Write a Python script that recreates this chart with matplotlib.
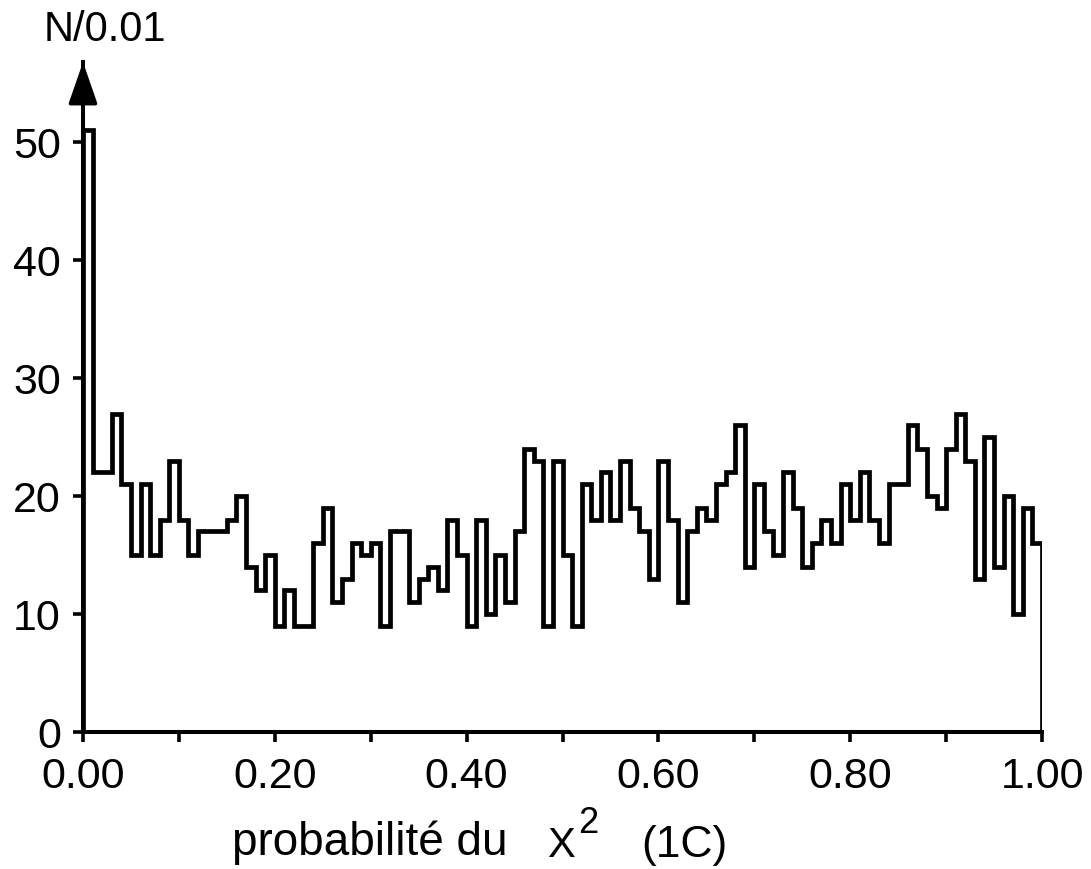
import numpy as np
import matplotlib
matplotlib.use("Agg")
import matplotlib.pyplot as plt

# Counts per 0.01-wide bin of the chi-square probability (1C fit)
counts = [51, 22, 22, 27, 21, 15, 21, 15, 18, 23,
          18, 15, 17, 17, 17, 18, 20, 14, 12, 15,
          9, 12, 9, 9, 16, 19, 11, 13, 16, 15,
          16, 9, 17, 17, 11, 13, 14, 12, 18, 15,
          9, 18, 10, 15, 11, 17, 24, 23, 9, 23,
          15, 9, 21, 18, 22, 18, 23, 19, 17, 13,
          23, 18, 11, 17, 19, 18, 21, 22, 26, 14,
          21, 17, 15, 22, 19, 14, 16, 18, 16, 21,
          18, 22, 18, 16, 21, 21, 26, 24, 20, 19,
          24, 27, 23, 13, 25, 14, 20, 10, 19, 16]
bin_edges = np.linspace(0.0, 1.0, len(counts) + 1)

x_major = [0.0, 0.2, 0.4, 0.6, 0.8, 1.0]
x_major_labels = ["0.00", "0.20", "0.40", "0.60", "0.80", "1.00"]
x_minor = [0.1, 0.3, 0.5, 0.7, 0.9]
y_ticks = [0, 10, 20, 30, 40, 50]

FONT = "Liberation Sans"
plt.rcParams["font.family"] = [FONT, "DejaVu Sans"]

W, H = 1091, 869
fig = plt.figure(figsize=(W / 100, H / 100), dpi=100)
x0, x1 = 83, 1042
y0, y1 = 732, 62
ax = fig.add_axes([x0 / W, (H - y0) / H, (x1 - x0) / W, (y0 - y1) / H])

ax.stairs(counts, bin_edges, baseline=0, fill=False, color="black",
          linewidth=3.4, joinstyle="miter")

ax.set_xlim(0, 1)
ax.set_ylim(0, 56.8)

for side in ("top", "right"):
    ax.spines[side].set_visible(False)
for side in ("left", "bottom"):
    ax.spines[side].set_linewidth(2.9)
    ax.spines[side].set_color("black")

ax.set_xticks(x_major)
ax.set_xticklabels(x_major_labels)
ax.set_xticks(x_minor, minor=True)
ax.set_yticks(y_ticks)
ax.tick_params(axis="both", which="both", direction="out", length=7,
               width=2.6, color="black", labelsize=31)
ax.tick_params(axis="x", which="major", pad=11)
ax.tick_params(axis="y", which="major", pad=9)

# Arrow head on the vertical axis
ax.annotate("", xy=(0, 56.8), xytext=(0, 53.5),
            arrowprops=dict(arrowstyle="-|>,head_length=1.3,head_width=0.45",
                            color="black", lw=2.6, mutation_scale=20,
                            shrinkA=0, shrinkB=0),
            annotation_clip=False)

fig.text(105 / W, 1 - 30 / H, "N/0.01", fontsize=30, ha="center", va="center")

# Axis title in pieces, with the chi-square symbol and its exponent
fig.text(232 / W, 1 - 855 / H, "probabilité du", fontsize=33,
         ha="left", va="baseline")
fig.text(561 / W, 1 - 857 / H, "X", fontsize=30, ha="center", va="baseline")
fig.text(588 / W, 1 - 833 / H, "2", fontsize=26, ha="center", va="baseline")
fig.text(684 / W, 1 - 857 / H, "(1C)", fontsize=32, ha="center",
         va="baseline")

fig.savefig("out.png", dpi=100, facecolor="white")
